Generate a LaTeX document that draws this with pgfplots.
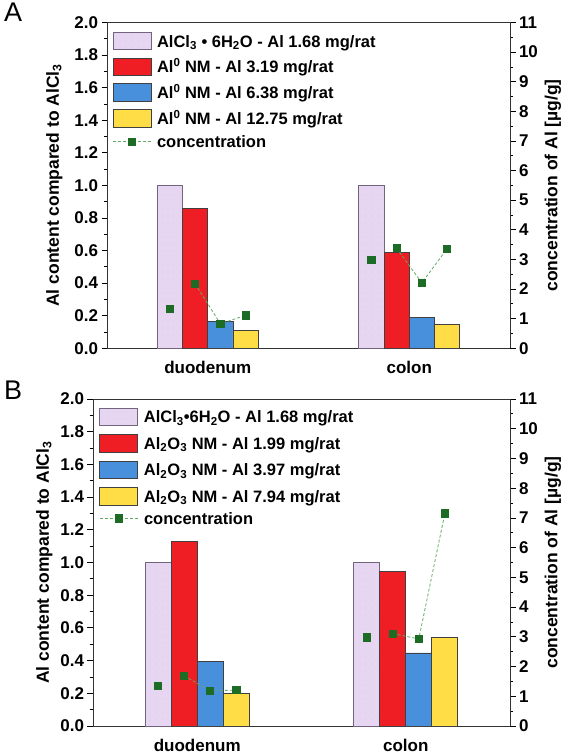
\documentclass[border=0pt]{standalone}
\usepackage{pgfplots}
\pgfplotsset{compat=1.18}
\usetikzlibrary{patterns}
\usepackage{fontspec}
\setmainfont{Liberation Sans}
\definecolor{lav}{RGB}{231,214,241}
\definecolor{lavedge}{RGB}{115,100,125}
\definecolor{lavdot}{RGB}{196,176,206}
\definecolor{bred}{RGB}{238,30,36}
\definecolor{bblue}{RGB}{72,143,220}
\definecolor{byel}{RGB}{255,221,70}
\definecolor{mgreen}{RGB}{28,108,38}
\definecolor{lgreen}{RGB}{100,170,100}
\newcommand{\fs}{\fontsize{16.5}{19}\selectfont\bfseries}
\newcommand{\ft}{\fontsize{17}{19}\selectfont\bfseries}
\newcommand{\fl}{\fontsize{17.5}{20}\selectfont\bfseries}
\pgfdeclarepatternformonly{sparsedots}{\pgfqpoint{-1pt}{-1pt}}{\pgfqpoint{1pt}{1pt}}{\pgfqpoint{6pt}{7pt}}{%
  \pgfpathcircle{\pgfqpoint{0pt}{0pt}}{0.45pt}\pgfusepath{fill}}

\pgfplotsset{
  swatch/.style={legend image code/.code={\draw[##1] (0pt,-8.8pt) rectangle (38pt,8.8pt);}},
  common/.style={
    scale only axis,
    anchor=south west,
    xmin=-0.5, xmax=1.5,
    tick align=outside,
    major tick length=5.5pt, minor tick length=3pt,
    tick style={black, line width=0.8pt},
    tick label style={font=\ft},
    label style={font=\fl},
    /pgf/number format/assume math mode=true,
    axis line style={black!80, line width=0.8pt},
    legend style={draw=none, fill=none, inner sep=0pt, font=\fs,
       nodes={inner sep=0pt, text height=14pt, text depth=2pt},
       /tikz/every odd column/.append style={column sep=5.7pt}},
    legend cell align=left,
  },
  leftax/.style={
    common,
    xtick={0,1}, xticklabels={duodenum,colon},
    xtick pos=bottom, major x tick style={draw=none},
    xticklabel style={yshift=-4pt},
    ymin=0, ymax=2,
    ytick={0,0.2,0.4,0.6,0.8,1.0,1.2,1.4,1.6,1.8,2.0},
    minor y tick num=1, ytick pos=left,
    yticklabel style={/pgf/number format/.cd, fixed, fixed zerofill, precision=1},
    ylabel={Al content compared to AlCl\textsubscript{3}},
    ybar=0pt, bar width=0.125,
    legend style={anchor=north west},
  },
  rightax/.style={
    common,
    axis y line*=right, axis x line=none,
    ymin=0, ymax=11, ytick={0,1,2,3,4,5,6,7,8,9,10,11}, minor y tick num=1,
    ylabel={concentration of Al [µg/g]},
    unbounded coords=jump,
    legend style={anchor=west},
    legend image code/.code={\draw[mark repeat=2,mark phase=2,##1] plot coordinates {(0pt,0pt) (19pt,0pt) (38pt,0pt)};},
  },
  conc/.style={lgreen, densely dashed, line width=0.8pt, mark=square*, mark size=3.6pt,
    mark options={solid, fill=mgreen, draw=mgreen}},
  bl/.style={swatch, fill=lav, draw=lavedge, line width=0.8pt,
    postaction={pattern=sparsedots, pattern color=lavdot}},
  br/.style={swatch, fill=bred, draw=black!75, line width=0.8pt},
  bb/.style={swatch, fill=bblue, draw=black!75, line width=0.8pt},
  by/.style={swatch, fill=byel, draw=black!75, line width=0.8pt},
}

\begin{document}
\begin{tikzpicture}
\useasboundingbox (0,0) rectangle (562pt,755pt);
\node[anchor=north west, font=\fontsize{27}{30}\selectfont, inner sep=0pt] at (4pt,752pt) {A};
\node[anchor=north west, font=\fontsize{27}{30}\selectfont, inner sep=0pt] at (4pt,374pt) {B};

% ---------- Panel A ----------
\begin{axis}[leftax, at={(107pt,406.7pt)}, width=403pt, height=325.8pt,
  ylabel shift=5pt,
  legend style={at={(0.0132,0.9718)}, row sep=7.4pt}]
\addplot[bl] coordinates {(0,1.0) (1,1.0)};
\addlegendentry{AlCl\textsubscript{3} • 6H\textsubscript{2}O - Al 1.68 mg/rat}
\addplot[br] coordinates {(0,0.857) (1,0.59)};
\addlegendentry{Al\textsuperscript{0} NM - Al 3.19 mg/rat}
\addplot[bb] coordinates {(0,0.166) (1,0.192)};
\addlegendentry{Al\textsuperscript{0} NM - Al 6.38 mg/rat}
\addplot[by] coordinates {(0,0.109) (1,0.147)};
\addlegendentry{Al\textsuperscript{0} NM - Al 12.75 mg/rat}
\end{axis}
\begin{axis}[rightax, at={(107pt,406.7pt)}, width=403pt, height=325.8pt,
  legend style={at={(0.0132,0.6347)}}]
\addplot[conc] coordinates {(-0.1875,1.34) (-0.125,nan) (-0.0625,2.18) (0.0625,0.83) (0.1875,1.11) (0.5,nan) (0.8125,2.98) (0.875,nan) (0.9375,3.38) (1.0625,2.21) (1.1875,3.36)};
\addlegendentry{concentration}
\end{axis}

% ---------- Panel B ----------
\begin{axis}[leftax, at={(93pt,29pt)}, width=417pt, height=327pt,
  ylabel shift=1pt,
  legend style={at={(0.0151,0.9746)}, row sep=8.1pt}]
\addplot[bl] coordinates {(0,1.0) (1,1.0)};
\addlegendentry{AlCl\textsubscript{3}•6H\textsubscript{2}O - Al 1.68 mg/rat}
\addplot[br] coordinates {(0,1.13) (1,0.945)};
\addlegendentry{Al\textsubscript{2}O\textsubscript{3} NM - Al 1.99 mg/rat}
\addplot[bb] coordinates {(0,0.395) (1,0.447)};
\addlegendentry{Al\textsubscript{2}O\textsubscript{3} NM - Al 3.97 mg/rat}
\addplot[by] coordinates {(0,0.2) (1,0.542)};
\addlegendentry{Al\textsubscript{2}O\textsubscript{3} NM - Al 7.94 mg/rat}
\end{axis}
\begin{axis}[rightax, at={(93pt,29pt)}, width=417pt, height=327pt,
  legend style={at={(0.0151,0.6346)}}]
\addplot[conc] coordinates {(-0.1875,1.35) (-0.125,nan) (-0.0625,1.69) (0.0625,1.18) (0.1875,1.21) (0.5,nan) (0.8125,2.98) (0.875,nan) (0.9375,3.11) (1.0625,2.93) (1.1875,7.15)};
\addlegendentry{concentration}
\end{axis}
\end{tikzpicture}
\end{document}
